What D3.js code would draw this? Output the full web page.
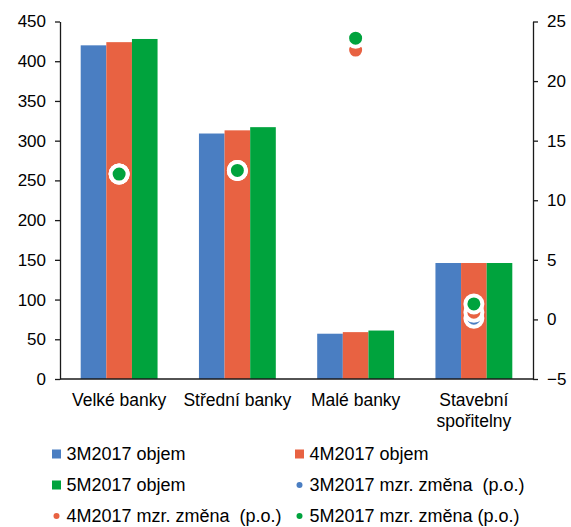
<!DOCTYPE html>
<html>
<head>
<meta charset="utf-8">
<script src="https://cdn.jsdelivr.net/npm/d3@7"></script>
<style>
  html, body { margin: 0; padding: 0; background: #fff; }
  svg { display: block; font-family: "Liberation Sans", Arial, sans-serif; }
</style>
</head>
<body>
<svg id="chart" width="571" height="527"></svg>
<script>
// Bank groups
const categories = ["Velké banky", "Střední banky", "Malé banky", "Stavební spořitelny"];
const categoryLines = [["Velké banky"], ["Střední banky"], ["Malé banky"], ["Stavební", "spořitelny"]];

// Volumes (left axis)
const volumeSeries = ["3M2017 objem", "4M2017 objem", "5M2017 objem"];
const objem3M = [420, 309, 57, 146];
const objem4M = [424, 313, 59, 146];
const objem5M = [428, 317, 61, 146];

// Year-on-year change, p.p. (right axis)
const changeSeries = ["3M2017 mzr. změna  (p.o.)", "4M2017 mzr. změna  (p.o.)", "5M2017 mzr. změna (p.o.)"];
const zmena3M = [12.2, 12.5, 22.4, 0.1];
const zmena4M = [12.2, 12.5, 22.6, 0.6];
const zmena5M = [12.2, 12.5, 23.6, 1.3];

// Axis ticks
const leftTicks = [0, 50, 100, 150, 200, 250, 300, 350, 400, 450];
const rightTicks = [-5, 0, 5, 10, 15, 20, 25];

const colors = ["#4a7ec2", "#e86242", "#00a33d"];

const svg = d3.select("#chart");
const plot = { left: 60, right: 533, top: 21.5, bottom: 379 };

const x = d3.scaleBand().domain(categories).range([plot.left, plot.right])
  .paddingInner(0.35).paddingOuter(0.175);
const xs = d3.scaleBand().domain(volumeSeries).range([0, x.bandwidth()]);
const yL = d3.scaleLinear().domain([0, 450]).range([plot.bottom, plot.top]);
const yR = d3.scaleLinear().domain([-5, 25]).range([plot.bottom, plot.top]);

const volumes = [objem3M, objem4M, objem5M];
const changes = [zmena3M, zmena4M, zmena5M];

// Bars
volumes.forEach((vals, si) => {
  svg.append("g").selectAll("rect").data(vals).join("rect")
    .attr("x", (d, i) => x(categories[i]) + xs(volumeSeries[si]))
    .attr("width", xs.bandwidth())
    .attr("y", d => yL(d))
    .attr("height", d => yL(0) - yL(d))
    .attr("fill", colors[si]);
});

// Axes
const axisColor = "#1a1a1a";
const tickFont = "17px";

const gL = svg.append("g").attr("transform", `translate(${plot.left},0)`)
  .call(d3.axisLeft(yL).tickValues(leftTicks).tickSize(5).tickPadding(9).tickSizeOuter(0));
const gR = svg.append("g").attr("transform", `translate(${plot.right},0)`)
  .call(d3.axisRight(yR).tickValues(rightTicks).tickSize(5).tickPadding(9).tickSizeOuter(0));
[gL, gR].forEach(g => {
  g.selectAll("path.domain").attr("stroke", axisColor).attr("stroke-width", 1.3);
  g.selectAll(".tick line").attr("stroke", axisColor).attr("stroke-width", 1.3);
  g.selectAll(".tick text").attr("fill", "#000").style("font-size", tickFont)
    .style("font-family", "'Liberation Sans', Arial, sans-serif");
});
gR.selectAll(".tick text").attr("text-anchor", "start").attr("x", 14);

// Category axis
svg.append("line")
  .attr("x1", plot.left).attr("x2", plot.right)
  .attr("y1", yL(0)).attr("y2", yL(0))
  .attr("stroke", axisColor).attr("stroke-width", 1.3);

svg.append("g").selectAll("text").data(categories).join("text")
  .attr("x", d => x(d) + x.bandwidth() / 2)
  .attr("y", 406)
  .attr("text-anchor", "middle")
  .style("font-size", "17.5px")
  .attr("fill", "#000")
  .each(function(d, i) {
    d3.select(this).selectAll("tspan").data(categoryLines[i]).join("tspan")
      .attr("x", x(d) + x.bandwidth() / 2)
      .attr("dy", (t, j) => j === 0 ? 0 : 21)
      .text(t => t);
  });

// Change markers
changes.forEach((vals, si) => {
  svg.append("g").selectAll("circle").data(vals).join("circle")
    .attr("cx", (d, i) => x(categories[i]) + x.bandwidth() / 2)
    .attr("cy", d => yR(d))
    .attr("r", 8.5)
    .attr("fill", colors[si])
    .attr("stroke", "#fff")
    .attr("stroke-width", 4);
});

// Legend
const legendItems = [
  { label: volumeSeries[0], color: colors[0], type: "rect", col: 0, row: 0 },
  { label: volumeSeries[1], color: colors[1], type: "rect", col: 1, row: 0 },
  { label: volumeSeries[2], color: colors[2], type: "rect", col: 0, row: 1 },
  { label: changeSeries[0], color: colors[0], type: "dot", col: 1, row: 1 },
  { label: changeSeries[1], color: colors[1], type: "dot", col: 0, row: 2 },
  { label: changeSeries[2], color: colors[2], type: "dot", col: 1, row: 2 }
];
const colX = [52, 295];
const rowY = [454, 485, 516];

const leg = svg.append("g").selectAll("g").data(legendItems).join("g")
  .attr("transform", d => `translate(${colX[d.col]},${rowY[d.row]})`);
leg.filter(d => d.type === "rect").append("rect")
  .attr("x", 0).attr("y", -4.5).attr("width", 9).attr("height", 9)
  .attr("fill", d => d.color);
leg.filter(d => d.type === "dot").append("circle")
  .attr("cx", 4.5).attr("cy", 0).attr("r", 3)
  .attr("fill", d => d.color);
leg.append("text")
  .attr("x", 14.5).attr("y", 6)
  .style("font-size", "18px")
  .attr("fill", "#000")
  .style("white-space", "pre")
  .attr("xml:space", "preserve")
  .text(d => d.label);
</script>
</body>
</html>
